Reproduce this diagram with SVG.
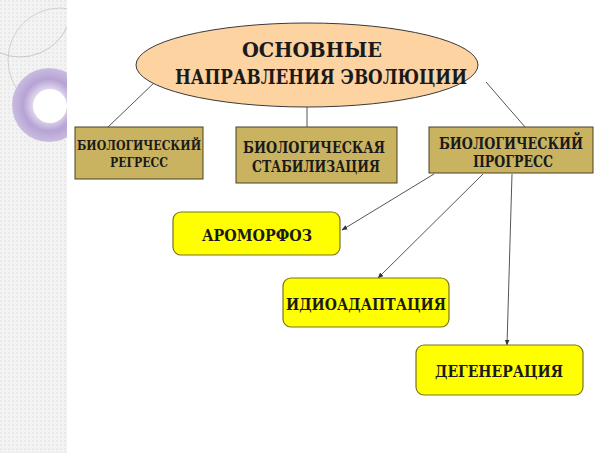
<svg xmlns="http://www.w3.org/2000/svg" width="604" height="453" viewBox="0 0 604 453">
<style>
text{font-family:"DejaVu Serif","Liberation Serif",serif;font-weight:bold;fill:#1a1a1a;text-anchor:middle}
.khaki{fill:#C9B260;stroke:#4a4020;stroke-width:1}
.yel{fill:#FFFF00;stroke:#7a7420;stroke-width:1.2}
.ln{stroke:#555;stroke-width:1;fill:none}
.ar{stroke:#555;stroke-width:1;fill:none;marker-end:url(#ah)}
</style>
<defs>
<pattern id="dots" width="4" height="4" patternUnits="userSpaceOnUse">
<rect width="4" height="4" fill="#F3F3F3"/>
<rect width="2" height="2" fill="#E9E9E9"/>
</pattern>
<radialGradient id="ring" cx="0.5" cy="0.5" r="0.5">
<stop offset="0.4" stop-color="#E6DDF0"/>
<stop offset="0.7" stop-color="#B6A3D4"/>
<stop offset="1" stop-color="#C9BCE0"/>
</radialGradient>
<clipPath id="strip"><rect x="0" y="0" width="67" height="453"/></clipPath>
<marker id="ah" viewBox="0 0 10 10" refX="9" refY="5" markerWidth="6" markerHeight="6" orient="auto">
<path d="M0,1 L10,5 L0,9 Z" fill="#333"/>
</marker>
</defs>
<rect width="604" height="453" fill="#fff"/>
<g id="bg-strip">
<rect x="0" y="0" width="67" height="453" fill="url(#dots)"/>
<g clip-path="url(#strip)">
<circle cx="20" cy="5" r="52" fill="none" stroke="#bdbdbd" stroke-width="0.8"/>
<circle cx="60" cy="60" r="52" fill="none" stroke="#c8c8c8" stroke-width="0.8"/>
<circle cx="49" cy="105" r="37" fill="url(#ring)"/>
<circle cx="50" cy="106" r="17" fill="#fff"/>
</g>
</g>
<g id="connectors">
<line class="ln" x1="156" y1="81" x2="108" y2="127"/>
<line class="ln" x1="307" y1="107" x2="307" y2="127"/>
<line class="ln" x1="486" y1="82" x2="525" y2="127"/>
<line class="ar" x1="434" y1="174" x2="342" y2="230"/>
<line class="ar" x1="483" y1="174" x2="378" y2="278"/>
<line class="ar" x1="512" y1="174" x2="507" y2="345"/>
</g>
<g id="main">
<ellipse cx="307" cy="65" rx="171" ry="42" fill="#FDD3A2" stroke="#3a3a3a" stroke-width="1"/>
<text x="312" y="57" font-size="21" textLength="140" lengthAdjust="spacingAndGlyphs">ОСНОВНЫЕ</text>
<text x="321" y="84" font-size="21" textLength="292" lengthAdjust="spacingAndGlyphs">НАПРАВЛЕНИЯ ЭВОЛЮЦИИ</text>
</g>
<g id="regress">
<rect class="khaki" x="75" y="127" width="128" height="52"/>
<text x="139" y="150" font-size="13" textLength="124" lengthAdjust="spacingAndGlyphs">БИОЛОГИЧЕСКИЙ</text>
<text x="139" y="167" font-size="13" textLength="58" lengthAdjust="spacingAndGlyphs">РЕГРЕСС</text>
</g>
<g id="stabil">
<rect class="khaki" x="236" y="127" width="161" height="56"/>
<text x="314" y="153" font-size="16" textLength="142" lengthAdjust="spacingAndGlyphs">БИОЛОГИЧЕСКАЯ</text>
<text x="316" y="172" font-size="16" textLength="128" lengthAdjust="spacingAndGlyphs">СТАБИЛИЗАЦИЯ</text>
</g>
<g id="progress">
<rect class="khaki" x="429" y="127" width="164" height="46"/>
<text x="511" y="149" font-size="16" textLength="144" lengthAdjust="spacingAndGlyphs">БИОЛОГИЧЕСКИЙ</text>
<text x="513" y="167" font-size="16" textLength="80" lengthAdjust="spacingAndGlyphs">ПРОГРЕСС</text>
</g>
<g id="aromorfoz">
<rect class="yel" x="173" y="212" width="167" height="43" rx="8"/>
<text x="257" y="241" font-size="17" textLength="110" lengthAdjust="spacingAndGlyphs">АРОМОРФОЗ</text>
</g>
<g id="idio">
<rect class="yel" x="283" y="278" width="166" height="49" rx="8"/>
<text x="366" y="310" font-size="17" textLength="160" lengthAdjust="spacingAndGlyphs">ИДИОАДАПТАЦИЯ</text>
</g>
<g id="degen">
<rect class="yel" x="416" y="345" width="167" height="50" rx="8"/>
<text x="499" y="377" font-size="17" textLength="128" lengthAdjust="spacingAndGlyphs">ДЕГЕНЕРАЦИЯ</text>
</g>
</svg>
